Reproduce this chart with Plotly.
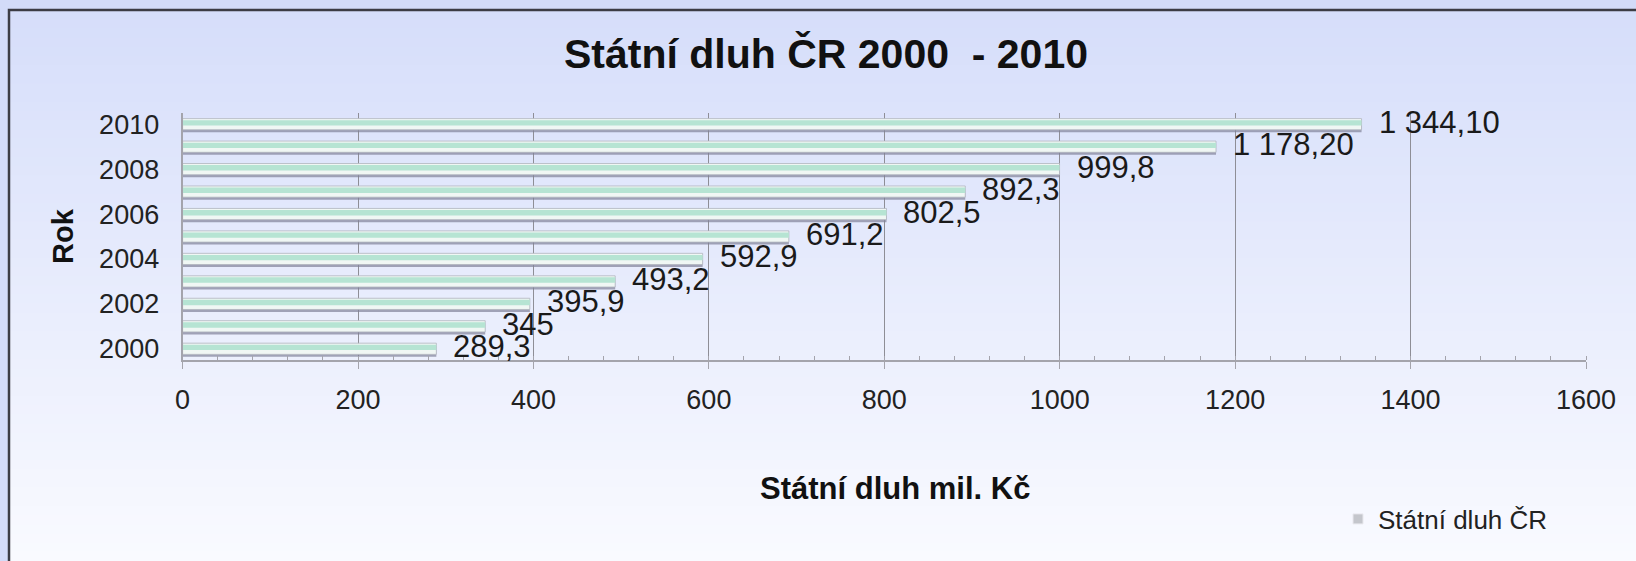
import plotly.graph_objects as go

# ---- data ----
years = ["2000", "2001", "2002", "2003", "2004", "2005", "2006", "2007", "2008", "2009", "2010"]
debt = [289.3, 345, 395.9, 493.2, 592.9, 691.2, 802.5, 892.3, 999.8, 1178.2, 1344.1]
debt_labels = ["289,3", "345", "395,9", "493,2", "592,9", "691,2", "802,5", "892,3", "999,8", "1 178,20", "1 344,10"]
year_ticks = ["2000", "2002", "2004", "2006", "2008", "2010"]
x_ticks = [0, 200, 400, 600, 800, 1000, 1200, 1400, 1600]

W, H = 1636, 561
FONT = "Arial, Liberation Sans, Helvetica, sans-serif"

fig = go.Figure()

# shadow under each bar
fig.add_trace(go.Bar(
    y=years, x=debt, orientation="h", name="Státní dluh ČR",
    width=0.5, offset=-0.36,
    marker=dict(color="rgba(128,130,152,0.7)", line=dict(width=0)),
    showlegend=False, hoverinfo="skip",
))
# main bar body
fig.add_trace(go.Bar(
    y=years, x=debt, orientation="h", name="Státní dluh ČR",
    width=0.5, offset=-0.25,
    marker=dict(color="#f0f7f4", line=dict(color="#b0b4be", width=0.8)),
    showlegend=False,
))
# mint stripe along the bar
fig.add_trace(go.Bar(
    y=years, x=debt, orientation="h", name="Státní dluh ČR",
    width=0.24, offset=-0.06,
    marker=dict(color="#b6e4d3", line=dict(width=0)),
    showlegend=False, hoverinfo="skip",
))
# legend entry (small light-grey swatch like the original)
fig.add_trace(go.Scatter(
    x=[None], y=[None], mode="markers", name="Státní dluh ČR",
    marker=dict(symbol="square", size=10, color="#c4c6cc", line=dict(color="#e8e8ee", width=1)),
    showlegend=True,
))

# data labels
for i, (xv, lab) in enumerate(zip(debt, debt_labels)):
    fig.add_annotation(x=xv, y=i, text=lab, showarrow=False,
                       xanchor="left", yanchor="middle", xshift=15, yshift=2,
                       font=dict(family=FONT, size=31, color="#1a1a1a"))

# x-axis title
fig.add_annotation(xref="paper", yref="paper", x=895 / W, y=1 - 488 / H,
                   text="<b>Státní dluh mil. Kč</b>", showarrow=False,
                   xanchor="center", yanchor="middle",
                   font=dict(family=FONT, size=31, color="#111111"))

# background gradient inside frame + frame
shapes = []
n = 60
top_px, bot_px = 10, H
c0 = (214, 222, 250)
c1 = (249, 250, 255)
for i in range(n):
    t = i / (n - 1)
    col = tuple(round(c0[k] + (c1[k] - c0[k]) * t) for k in range(3))
    ya = top_px + (bot_px - top_px) * i / n
    yb = top_px + (bot_px - top_px) * (i + 1) / n + 1
    shapes.append(dict(type="rect", xref="paper", yref="paper", layer="below",
                       x0=9 / W, x1=1.01, y0=1 - yb / H, y1=1 - ya / H,
                       line=dict(width=0), fillcolor="rgb(%d,%d,%d)" % col))
shapes.append(dict(type="rect", xref="paper", yref="paper", layer="below",
                   x0=9 / W, x1=1.01, y0=-0.02, y1=1 - 10 / H,
                   line=dict(color="#3c3c44", width=2.5), fillcolor="rgba(0,0,0,0)"))

fig.update_layout(
    width=W, height=H,
    margin=dict(l=0, r=0, t=0, b=0),
    paper_bgcolor="#d3dbf8",
    plot_bgcolor="rgba(0,0,0,0)",
    barmode="overlay",
    shapes=shapes,
    font=dict(family=FONT, color="#222222"),
    title=dict(text="<b>Státní dluh ČR 2000&nbsp; - 2010</b>", x=826 / W, y=1 - 54 / H,
               xanchor="center", yanchor="middle",
               font=dict(family=FONT, size=41, color="#111111")),
    xaxis=dict(
        domain=[182.6 / W, 1586 / W], range=[0, 1600],
        tickmode="array", tickvals=x_ticks,
        showgrid=True, gridcolor="#8e8e96", gridwidth=1.2,
        showline=True, linecolor="#a4a4ac", linewidth=2,
        ticks="outside", ticklen=7, tickcolor="#a4a4ac", tickwidth=1.2,
        minor=dict(dtick=40, ticks="inside", ticklen=4, tickcolor="#a4a4ac", showgrid=False),
        tickfont=dict(family=FONT, size=27, color="#222222"),
        ticklabelstandoff=8,
        zeroline=False, automargin=False,
    ),
    yaxis=dict(
        domain=[1 - 360 / H, 1 - 113 / H],
        type="category", categoryorder="array", categoryarray=years,
        range=[-0.5, 10.5],
        tickmode="array", tickvals=year_ticks, ticktext=year_ticks,
        showgrid=False, showline=True, linecolor="#a4a4ac", linewidth=2,
        ticks="", ticklabelstandoff=16,
        tickfont=dict(family=FONT, size=27, color="#222222"),
        automargin=False,
        title=dict(text="<b>Rok</b>", standoff=17,
                   font=dict(family=FONT, size=29, color="#111111")),
    ),
    legend=dict(x=1338 / W, y=1 - 519 / H, xanchor="left", yanchor="middle",
                bgcolor="rgba(0,0,0,0)", font=dict(family=FONT, size=26, color="#222222"),
                itemwidth=30),
    showlegend=True,
)

fig.write_html("out.html", config={"displayModeBar": False},
               post_script="document.body.style.margin='0';document.body.style.overflow='hidden';")
